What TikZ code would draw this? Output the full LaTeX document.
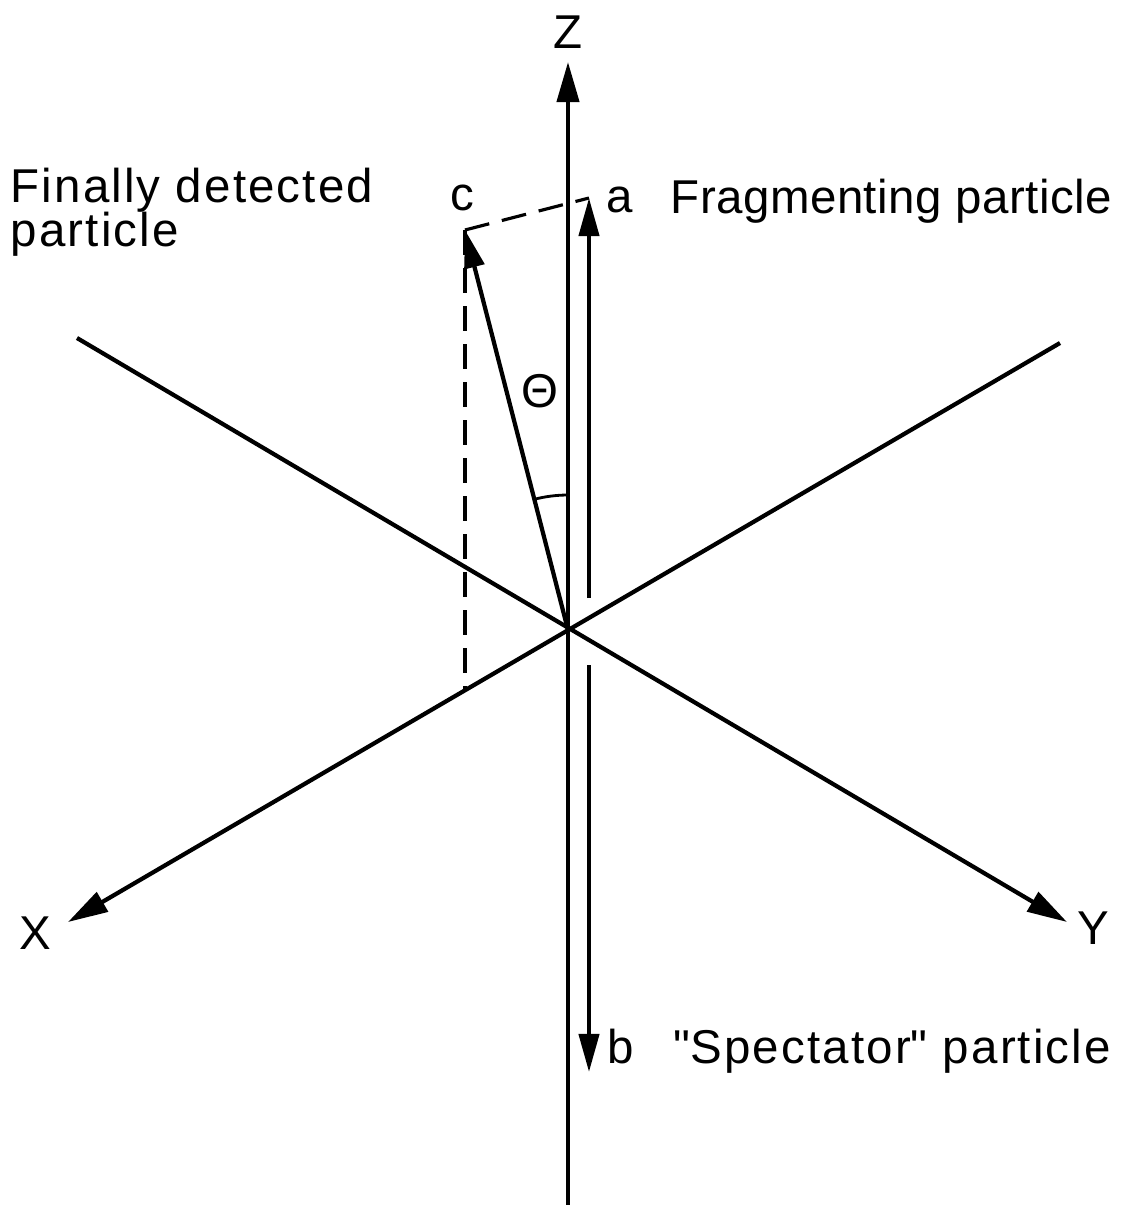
\documentclass[tikz,border=0pt]{standalone}
\usepackage{fontspec}
\setmainfont{Liberation Sans}
\usetikzlibrary{arrows.meta, positioning, calc}

\begin{document}
\begin{tikzpicture}[
  x=0.01cm, y=-0.01cm,
  axis/.style={line width=1.2pt, -{Triangle[length=4mm, width=2.2mm]}},
  vec/.style={line width=1.2pt, -{Triangle[length=3.8mm, width=2mm]}},
  proj/.style={line width=0.9pt, dash pattern=on 2.5mm off 1.3mm},
  lbl/.style={font=\fontsize{13.5}{15}\selectfont, inner sep=0pt},
  wide/.style={font=\fontsize{13.5}{15}\selectfont\addfontfeature{LetterSpace=4.5}}
]
\useasboundingbox (0,0) rectangle (1131,1205);

% ----- Axes -----
\coordinate (O)     at (568,630);
\coordinate (zbot)  at (568,1205);
\coordinate (ztop)  at (568,62);
\coordinate (xtail) at (1060,343);
\coordinate (xtip)  at (68,922);
\coordinate (ytail) at (77,338);
\coordinate (ytip)  at (1067,922);

\draw[axis] (zbot) -- (ztop);
\draw[axis] (xtail) -- (xtip);
\draw[axis] (ytail) -- (ytip);

\node[lbl] (zlab) at (568,32) {Z};
\node[lbl] (xlab) at (35,933) {X};
\node[lbl] (ylab) at (1093,928) {Y};

% ----- Particles a, b, c -----
\coordinate (atail) at (589,598);
\coordinate (atip)  at (589,198);
\coordinate (btail) at (589,665);
\coordinate (btip)  at (589,1072);
\coordinate (ctip)  at (465,230);
\coordinate (cfoot) at (465,689);

\draw[vec] (atail) -- (atip);
\draw[vec] (btail) -- (btip);
\draw[vec] (O) -- (ctip);
\draw[proj] (ctip) -- (atip);
\draw[proj] (ctip) -- (cfoot);

% ----- Angle theta -----
\draw[line width=0.8pt] (O) ++(-90:135) arc[start angle=-90, end angle=-104.4, radius=135];
\node[lbl] (theta) at (540,391) {Θ};

% ----- Labels -----
\node[lbl, anchor=base west] (clab) at (450,210) {c};
\node[lbl, anchor=base west] (alab) at (606,212) {a};
\node[lbl, anchor=base west, font=\fontsize{13.5}{15}\selectfont\addfontfeature{LetterSpace=1}] (frag) at (670,213) {Fragmenting particle};
\node[lbl, wide, anchor=base west] (blab) at (607,1063) {b};
\node[lbl, wide, anchor=base west] (spec) at (673,1063) {\textquotedbl Spectator\textquotedbl{} particle};
\node[lbl, wide, anchor=base west] (fin)  at (10,202) {Finally detected};
\node[lbl, wide, anchor=base west] (fin2) at (10,246) {particle};

\end{tikzpicture}
\end{document}
